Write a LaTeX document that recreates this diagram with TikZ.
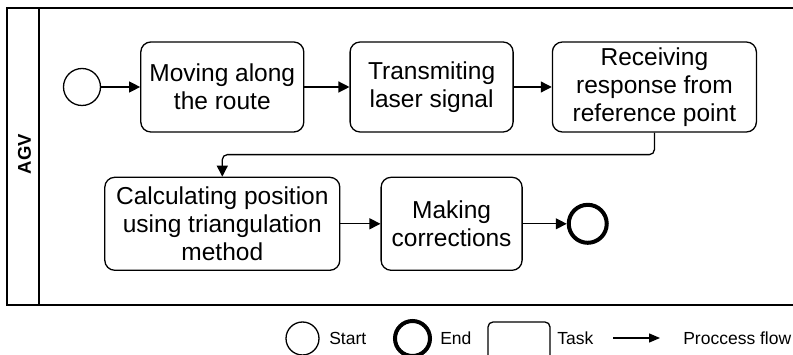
\documentclass[tikz,border=0pt]{standalone}
\usepackage{fontspec}
\setmainfont{Liberation Sans}
\usetikzlibrary{positioning}
\usetikzlibrary{arrows.meta}

\begin{document}
\begin{tikzpicture}[
            x = 1pt, y = -1pt, % pixel-like units, y going down
            > = {Triangle[length=11pt, width=11pt]}, % arrow head style
            auto,
            node distance = 40pt, % distance between nodes
            semithick % line style
        ]

        \tikzstyle{task}=[
            draw,
            rounded corners = 10pt,
            line width = 1.3pt,
            align = center,
            minimum width = 163pt,
            minimum height = 90pt,
            font = \fontsize{24.5}{28}\selectfont
        ]
        \tikzstyle{startev}=[draw, circle, line width = 1.3pt, minimum size = 37pt, inner sep = 0pt]
        \tikzstyle{endev}=[draw, circle, line width = 4pt, minimum size = 38pt, inner sep = 0pt]
        \tikzstyle{flow}=[->, line width = 1.3pt]
        \tikzstyle{legend}=[anchor = base west, inner sep = 0pt, font = \fontsize{17.5}{20}\selectfont]

        \clip (0,0) rectangle (793,355);

        % pool and lane
        \draw[line width = 1.8pt] (793,8) -- (7,8) -- (7,305) -- (793,305);
        \draw[line width = 1.8pt] (39,8) -- (39,305);
        \node[rotate = 90, font = \bfseries\fontsize{18.5}{20}\selectfont] (AGV) at (24.5,154) {AGV};

        % process
        \node[startev] (S) at (82,87) {};
        \node[task] (Move) [right=39pt of S] {Moving along\\the route};
        \node[task] (Laser) [right=45pt of Move] {Transmiting\\laser signal};
        \node[task, minimum width = 204pt] (Resp) [right=38pt of Laser] {Receiving\\response from\\reference point};
        \node[task, minimum width = 235pt, minimum height = 93pt] (Calc) [below=44pt of Move] {Calculating position\\using triangulation\\method};
        \node[task, minimum width = 141pt, minimum height = 93pt] (Corr) [right=40pt of Calc] {Making\\corrections};
        \node[endev] (E) [right=44pt of Corr] {};

        \path[flow] (S) edge (Move);
        \path[flow] (Move) edge (Laser);
        \path[flow] (Laser) edge (Resp);
        \draw[flow, rounded corners = 5pt] (Resp.south) -- ++(0,-22pt) -| (Calc.north);
        \path[flow] (Calc) edge (Corr);
        \path[flow] (Corr) edge (E);

        % legend
        \node[startev, minimum size = 33pt] (LS) at (302.5,338.5) {};
        \node[legend] (LSt) at (329,345) {Start};
        \node[endev, minimum size = 35pt] (LE) at (412.5,338.5) {};
        \node[legend] (LEt) at (440,345) {End};
        \node[draw, line width = 1.3pt, rounded corners = 5pt, minimum width = 62pt, minimum height = 46pt] (LT) at (519,345) {};
        \node[legend] (LTt) at (557,345) {Task};
        \coordinate (LFa) at (613,338);
        \coordinate (LFb) at (660,338);
        \path[flow, > = {Triangle[length=11pt, width=9pt]}] (LFa) edge (LFb);
        \node[legend] (LFt) at (683,345) {Proccess flow};

  \end{tikzpicture}
\end{document}
